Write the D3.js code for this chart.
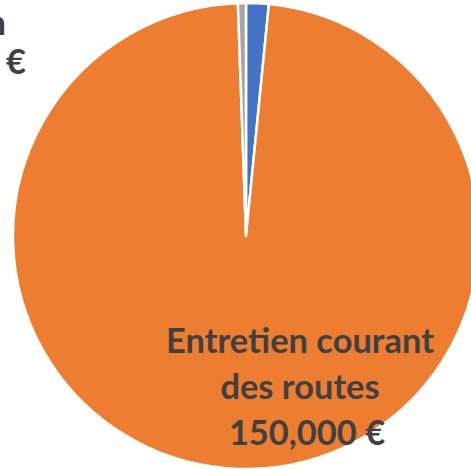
<!DOCTYPE html>
<html>
<head>
<meta charset="utf-8">
<script src="https://cdn.jsdelivr.net/npm/d3@7"></script>
<style>
  body { margin: 0; background: #fff; }
  text { font-family: Lato, "Open Sans", sans-serif; font-weight: bold; fill: #404040; }
</style>
</head>
<body>
<div id="chart"></div>
<script>
// Chart data (blue, orange, gray in drawing order)
var categories = ["Marquage au sol", "Entretien courant des routes", "Signalisation"];
var values = [2400, 150000, 850];
var colors = ["#4472C4", "#ED7D31", "#A5A5A5"];

var w = 471;
var h = 469;
var cx = 246, cy = 236, radius = 233;

var svg = d3.select("#chart")
    .append("svg")
    .attr("width", w)
    .attr("height", h);

var g = svg.append("g")
    .attr("transform", "translate(" + cx + "," + cy + ")");

var pie = d3.pie()
    .sort(null)
    .value(function(d) { return d; });

var arc = d3.arc()
    .innerRadius(0)
    .outerRadius(radius);

g.selectAll("path")
    .data(pie(values))
    .enter()
    .append("path")
    .attr("d", arc)
    .attr("fill", function(d, i) { return colors[i]; })
    .attr("stroke", "#fff")
    .attr("stroke-width", 2.5)
    .attr("stroke-linejoin", "round");

// Label of the big slice, three centred lines
var fmt = d3.format(",");
var bigLines = ["Entretien courant", "des routes", fmt(values[1]) + " €"];
var label = svg.append("text")
    .attr("text-anchor", "middle")
    .attr("font-size", 32);

label.selectAll("tspan")
    .data(bigLines)
    .enter()
    .append("tspan")
    .attr("x", function(d, i) { return i == 2 ? 307 : 300; })
    .attr("y", function(d, i) { return 353 + i * 46; })
    .text(function(d) { return d; });

// scale font so the first line has the same width as in the picture
var first = label.select("tspan").node();
var fs = 32 * 268 / first.getComputedTextLength();
label.attr("font-size", fs);

// Label of the gray slice, mostly outside the window on the left
var smallLines = [categories[2], fmt(values[2]) + " €"];
svg.append("text")
    .attr("text-anchor", "end")
    .attr("font-size", fs)
    .selectAll("tspan")
    .data(smallLines)
    .enter()
    .append("tspan")
    .attr("x", function(d, i) { return i == 0 ? 6 : 26; })
    .attr("y", function(d, i) { return 35 + i * 39; })
    .text(function(d) { return d; });
</script>
</body>
</html>
